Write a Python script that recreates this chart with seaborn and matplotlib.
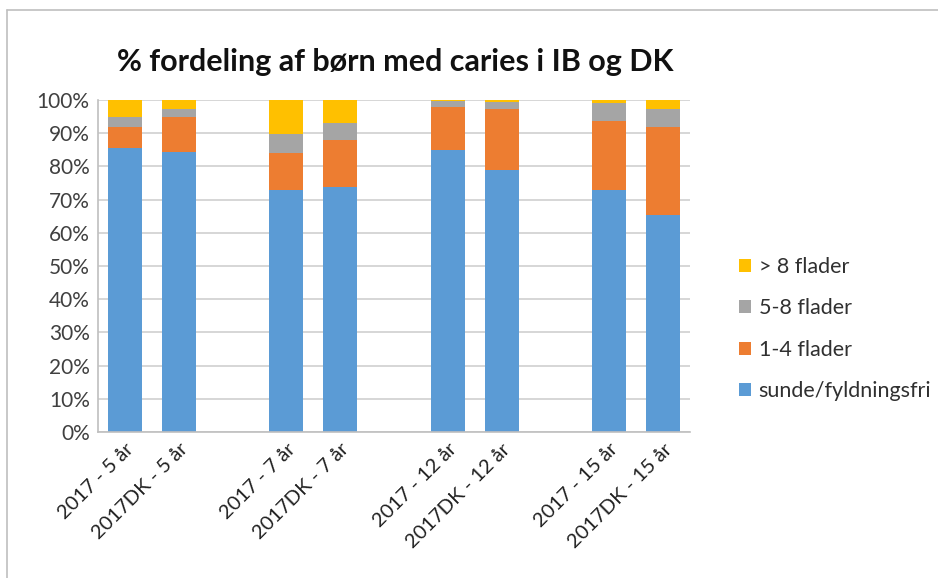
import numpy as np
import pandas as pd
import matplotlib
matplotlib.use("Agg")
import matplotlib.pyplot as plt
import seaborn as sns
from matplotlib.lines import Line2D
from matplotlib.ticker import PercentFormatter

# data (percent of children)
groups = ["2017 - 5 år", "2017DK - 5 år", "2017 - 7 år", "2017DK - 7 år",
          "2017 - 12 år", "2017DK - 12 år", "2017 - 15 år", "2017DK - 15 år"]
sunde = [85.4, 84.4, 73.0, 73.8, 84.9, 78.9, 73.0, 65.3]
flader_1_4 = [6.5, 10.4, 10.9, 14.1, 12.9, 18.4, 20.8, 26.6]
flader_5_8 = [3.1, 2.4, 5.8, 5.1, 2.0, 2.2, 5.2, 5.4]
flader_8 = [5.0, 2.8, 10.3, 7.0, 0.2, 0.5, 1.0, 2.7]

# empty slots between the age groups
order = [groups[0], groups[1], " ", groups[2], groups[3], "  ",
         groups[4], groups[5], "   ", groups[6], groups[7]]

series = [("> 8 flader", flader_8, "#FFC000"),
          ("5-8 flader", flader_5_8, "#A5A5A5"),
          ("1-4 flader", flader_1_4, "#ED7D31"),
          ("sunde/fyldningsfri", sunde, "#5B9BD5")]

df = pd.DataFrame({"gruppe": groups, "sunde": sunde, "f14": flader_1_4,
                   "f58": flader_5_8, "f8": flader_8})
df["c1"] = df["sunde"]
df["c2"] = df["c1"] + df["f14"]
df["c3"] = df["c2"] + df["f58"]
df["c4"] = df["c3"] + df["f8"]

sns.set_style("white")
plt.rcParams["font.family"] = ["Lato", "DejaVu Sans"]

fig = plt.figure(figsize=(9.38, 5.78), dpi=100)
ax = fig.add_axes([98 / 938, 1 - 432 / 578, 592 / 938, 332 / 578])

# draw from the top of the stack down so the lower layers cover the upper
for (label, _, color), col in zip(series, ["c4", "c3", "c2", "c1"]):
    sns.barplot(data=df, x="gruppe", y=col, order=order, color=color,
                width=0.63, saturation=1, label=label, linewidth=0,
                edgecolor="none", ax=ax)

ax.set_ylim(0, 100)
ax.set_yticks(np.arange(0, 101, 10))
ax.yaxis.set_major_formatter(PercentFormatter(decimals=0))
ax.yaxis.grid(True, color="#D0D0D0", linewidth=1.2)
ax.set_axisbelow(True)
ax.set_xlabel("")
ax.set_ylabel("")

for s in ["top", "right"]:
    ax.spines[s].set_visible(False)
for s in ["left", "bottom"]:
    ax.spines[s].set_color("#BFBFBF")
    ax.spines[s].set_linewidth(1.2)

ax.tick_params(axis="y", length=0, labelsize=15, colors="#404040", pad=6)
ax.tick_params(axis="x", length=0, labelsize=14.5, colors="#202020", pad=6)
plt.setp(ax.get_xticklabels(), rotation=45, ha="right", rotation_mode="anchor")

fig.suptitle("% fordeling af børn med caries i IB og DK", x=395 / 938, y=1 - 62 / 578,
             va="center", fontsize=22, fontweight="bold", color="#111111")

handles, labels = ax.get_legend_handles_labels()
ax.legend(handles, labels, loc="center left", bbox_to_anchor=(720 / 938, 1 - 329 / 578),
          bbox_transform=fig.transFigure, frameon=False, fontsize=15.5,
          handlelength=0.55, handleheight=0.55, handletextpad=0.35, labelspacing=1.0,
          labelcolor="#303030")

# chart frame (only the left and top edges are in the picture)
fig.add_artist(Line2D([7 / 938, 7 / 938], [0, 1 - 10 / 578], color="#BFBFBF",
                      linewidth=1.2, transform=fig.transFigure))
fig.add_artist(Line2D([7 / 938, 1], [1 - 10 / 578, 1 - 10 / 578], color="#BFBFBF",
                      linewidth=1.2, transform=fig.transFigure))

fig.savefig("out.png", dpi=100)
